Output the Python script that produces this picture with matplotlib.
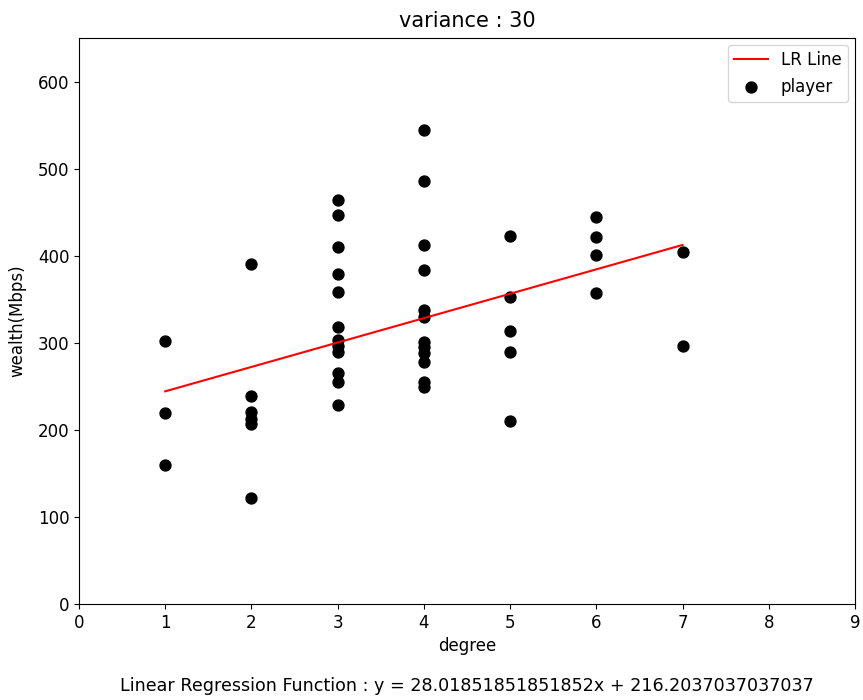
import numpy as np
import matplotlib
matplotlib.use("Agg")
import matplotlib.pyplot as plt

# degree (x) and wealth (y) of each player
degree = [1, 1, 1,
          2, 2, 2, 2, 2, 2,
          3, 3, 3, 3, 3, 3, 3, 3, 3, 3, 3, 3,
          4, 4, 4, 4, 4, 4, 4, 4, 4, 4, 4, 4,
          5, 5, 5, 5, 5,
          6, 6, 6, 6,
          7, 7]
wealth = [302, 219, 160,
          390, 239, 220, 213, 207, 122,
          464, 447, 410, 379, 358, 318, 303, 296, 289, 265, 255, 229,
          544, 486, 412, 384, 338, 330, 301, 295, 288, 278, 255, 249,
          423, 352, 314, 289, 210,
          445, 421, 401, 357,
          404, 296]

slope = 28.01851851851852
intercept = 216.2037037037037
variance = 30

plt.rcParams['font.size'] = 12

fig = plt.figure(figsize=(8.63, 7), dpi=100)
ax = fig.add_axes([79 / 863, 96 / 700, 776 / 863, 566 / 700])

# regression line over the degree range
xs = np.array([min(degree), max(degree)])
ax.plot(xs, slope * xs + intercept, c="red", lw=1.5, label="LR Line")
ax.scatter(degree, wealth, c="black", s=62, label="player")

ax.set_xlim(0, 9)
ax.set_ylim(0, 650)
ax.set_xticks(range(0, 10))
ax.set_yticks(range(0, 700, 100))
ax.set_title("variance : %d" % variance, fontsize=15, pad=8)
ax.set_xlabel("degree")
ax.set_ylabel("wealth(Mbps)", labelpad=8)
ax.legend(loc="upper right", borderaxespad=0.4)

ax.text(0.5, -0.145, "Linear Regression Function : y = %sx + %s" % (slope, intercept),
        transform=ax.transAxes, ha="center", va="center", fontsize=12.6)

fig.savefig("out.png", dpi=100)
